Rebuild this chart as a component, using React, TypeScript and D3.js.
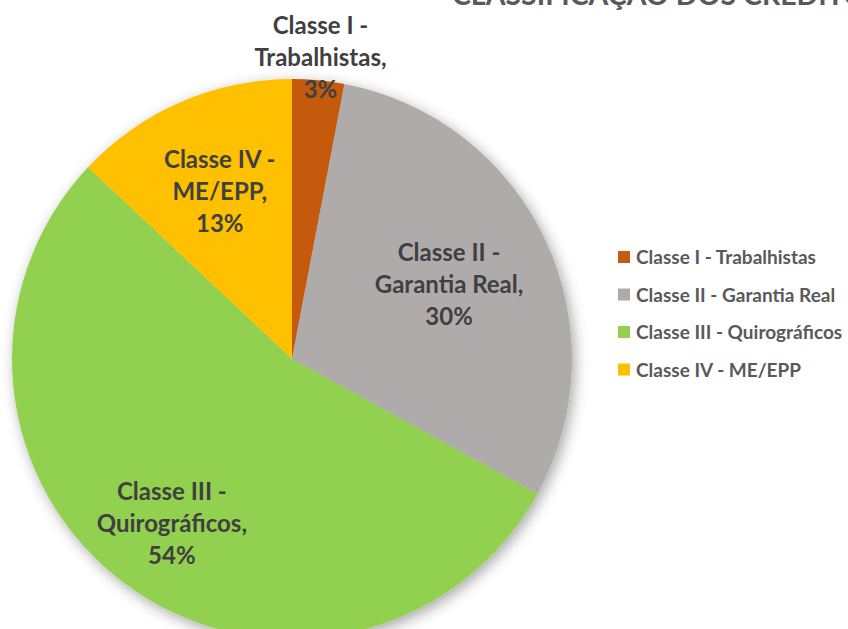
import React, { useEffect, useRef } from 'react';
import * as d3 from 'd3';

const categories = ['Classe I - Trabalhistas', 'Classe II - Garantia Real', 'Classe III - Quirográficos', 'Classe IV - ME/EPP'];
const values = [3, 30, 54, 13];
const labelLines = [
  ['Classe I -', 'Trabalhistas,', '3%'],
  ['Classe II -', 'Garantia Real,', '30%'],
  ['Classe III -', 'Quirográficos,', '54%'],
  ['Classe IV -', 'ME/EPP,', '13%'],
];
const colors = ['#C55A11', '#AFABAB', '#92D050', '#FFC000'];
const title = 'CLASSIFICAÇÃO DOS CRÉDITOS';

export default function App() {
  const ref = useRef<SVGSVGElement>(null);
  const width = 848;
  const height = 629;
  const cx = 292;
  const cy = 359;
  const r = 280;
  // how far out each label sits, as share of radius
  const labelRadius = [1.08, 0.62, 0.73, 0.65];
  const font = 'Lato, "Open Sans", sans-serif';

  useEffect(() => {
    const svg = d3.select(ref.current);
    svg.selectAll('*').remove();
    svg.attr('width', width).attr('height', height).attr('viewBox', [0, 0, width, height] as any);

    // ---------- shadow ----------
    const defs = svg.append('defs');
    const f = defs.append('filter').attr('id', 'pieShadow')
      .attr('x', '-20%').attr('y', '-20%').attr('width', '140%').attr('height', '140%');
    f.append('feDropShadow')
      .attr('dx', 3).attr('dy', 4).attr('stdDeviation', 7)
      .attr('flood-color', '#000').attr('flood-opacity', 0.35);

    svg.append('rect').attr('width', width).attr('height', height).attr('fill', '#fff');

    // ---------- title ----------
    svg.append('text')
      .attr('x', 452).attr('y', 5)
      .attr('fill', '#595959')
      .attr('font-family', font)
      .attr('font-weight', 700)
      .attr('font-size', 28.5)
      .text(title);

    // ---------- pie ----------
    const pie = d3.pie<number>().sort(null).value((d) => d);
    const arcs = pie(values);
    const arc = d3.arc<d3.PieArcDatum<number>>().innerRadius(0).outerRadius(r);

    const g = svg.append('g').attr('transform', `translate(${cx},${cy})`);
    g.append('g').attr('filter', 'url(#pieShadow)')
      .selectAll('path')
      .data(arcs)
      .join('path')
      .attr('d', arc)
      .attr('fill', (d, i) => colors[i]);

    // ---------- labels ----------
    const lineH = 32;
    const labels = g.append('g')
      .selectAll('text')
      .data(arcs)
      .join('text')
      .attr('transform', (d, i) => {
        const la = d3.arc<d3.PieArcDatum<number>>().innerRadius(r * labelRadius[i]).outerRadius(r * labelRadius[i]);
        const [x, y] = la.centroid(d);
        return `translate(${x},${y})`;
      })
      .attr('text-anchor', 'middle')
      .attr('fill', '#404040')
      .attr('font-family', font)
      .attr('font-weight', 700)
      .attr('font-size', 24);

    labels.each(function (d, i) {
      const t = d3.select(this);
      labelLines[i].forEach((line, j) => {
        t.append('tspan')
          .attr('x', 0)
          .attr('y', (j - 1) * lineH + 8)
          .text(line);
      });
    });

    // ---------- legend ----------
    const legend = svg.append('g').attr('transform', 'translate(618,257)');
    const rows = legend.selectAll('g')
      .data(categories)
      .join('g')
      .attr('transform', (d, i) => `translate(0,${i * 37.5})`);
    rows.append('rect')
      .attr('x', 0).attr('y', -6)
      .attr('width', 12).attr('height', 12)
      .attr('fill', (d, i) => colors[i]);
    rows.append('text')
      .attr('x', 18).attr('y', 7)
      .attr('fill', '#595959')
      .attr('font-family', font)
      .attr('font-weight', 700)
      .attr('font-size', 19)
      .text((d) => d);
  }, []);

  return (
    <svg ref={ref} style={{ position: 'absolute', left: 0, top: 0 }}></svg>
  );
}
